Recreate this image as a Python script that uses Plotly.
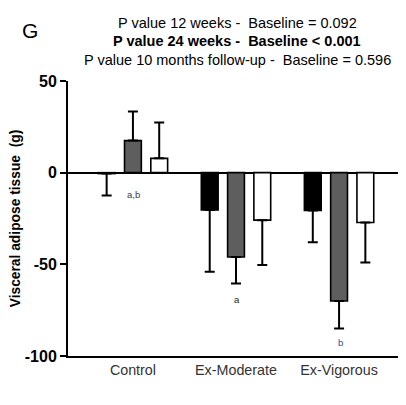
import plotly.graph_objects as go

categories = ["Control", "Ex-Moderate", "Ex-Vigorous"]
series_names = ["12 weeks", "24 weeks", "10 months follow-up"]
vals_12w = [-0.5, -20.4, -20.6]
err_12w = [12.0, 33.6, 17.3]
vals_24w = [17.5, -46.0, -70.0]
err_24w = [15.8, 14.4, 15.0]
vals_10m = [7.8, -25.9, -27.2]
err_10m = [19.5, 24.5, 21.8]
sig_labels = ["a,b", "a", "b"]
sig_y = [-12, -69, -92.5]
p_lines = ["P value 12 weeks -\u00a0 Baseline = 0.092",
           "<b>P value 24 weeks -\u00a0 Baseline < 0.001</b>",
           "P value 10 months follow-up -\u00a0 Baseline = 0.596"]

fills = ["#000000", "#5e5e5e", "#ffffff"]
FONT = "Liberation Sans, Arial, sans-serif"

OFF = 8  # page body margin
W, H = 406 - OFF, 405 - OFF
L, R, T = 68 - OFF, 2, 81 - OFF
B = H - (356 - OFF)
pw, ph = W - L - R, H - T - B

def px(x):  # page pixel -> paper
    return (x - OFF - L) / pw
def py(y):
    return (356 - y) / ph

fig = go.Figure()
for name, vals, errs, col in zip(series_names, [vals_12w, vals_24w, vals_10m],
                                 [err_12w, err_24w, err_10m], fills):
    up = [e if v > 0 else 0 for v, e in zip(vals, errs)]
    dn = [e if v <= 0 else 0 for v, e in zip(vals, errs)]
    fig.add_trace(go.Bar(
        x=categories, y=vals, name=name,
        marker=dict(color=col, line=dict(color="black", width=1.6)),
        error_y=dict(type="data", symmetric=False, array=up, arrayminus=dn,
                     color="black", thickness=2, width=5),
    ))

ann = []
ann.append(dict(text="G", x=px(20), y=py(17.5), xref="paper", yref="paper",
                showarrow=False, font=dict(size=21, color="black", family=FONT)))
for i, t in enumerate(p_lines):
    ann.append(dict(text=t, x=px(237), y=py(12.5 + 18.5 * i), xref="paper", yref="paper",
                    showarrow=False, font=dict(size=14.5, color="black", family=FONT)))
sig_cols = ["#3a3a4a", "#222222", "#2a4aa0"]
for c, lab, yy, sc in zip(categories, sig_labels, sig_y, sig_cols):
    ann.append(dict(text=lab, x=c, y=yy, xref="x", yref="y", xshift=1, showarrow=False,
                    font=dict(size=9.5, color=sc, family=FONT)))

fig.update_layout(
    width=W, height=H,
    margin=dict(l=L, r=R, t=T, b=B, pad=0),
    paper_bgcolor="white", plot_bgcolor="white",
    showlegend=False,
    barmode="group", bargap=0.235, bargroupgap=0.36,
    annotations=ann,
    font=dict(family=FONT, color="black"),
    xaxis=dict(range=[-0.63, 2.63], showline=True, linecolor="black", linewidth=2,
               ticks="", showgrid=False, zeroline=False,
               tickfont=dict(size=14.3, color="#333333", family=FONT)),
    yaxis=dict(range=[-100, 50], tickvals=[-100, -50, 0, 50],
               ticktext=["<b>-100</b>", "<b>-50</b>", "<b>0</b>", "<b>50</b>"],
               showline=True, linecolor="black", linewidth=2,
               ticks="outside", ticklen=6, tickwidth=2, tickcolor="black",
               showgrid=False, zeroline=True, zerolinecolor="black", zerolinewidth=2,
               tickfont=dict(size=16, color="black", family=FONT),
               title=dict(text="<b>Visceral adipose tissue\u00a0 (g)</b>", standoff=6,
                          font=dict(size=13.8, color="black", family=FONT))),
)

fig.write_html("out.html")
